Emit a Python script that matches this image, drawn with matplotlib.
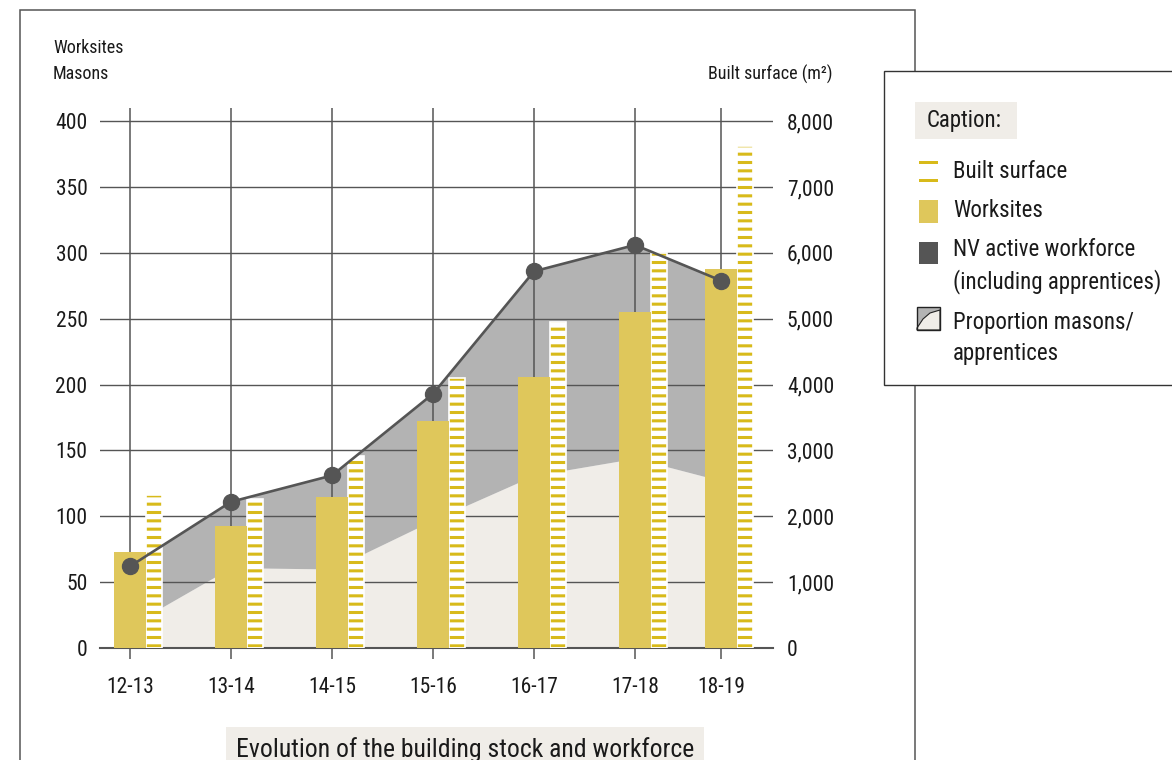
import matplotlib
matplotlib.use("Agg")
import matplotlib.pyplot as plt
from matplotlib import font_manager
from matplotlib.patches import Rectangle, Polygon

# schmale Schrift suchen, sonst Roboto
installed = {f.name for f in font_manager.fontManager.ttflist}
wanted = ["Roboto Condensed", "Barlow Semi Condensed", "Archivo Narrow", "PT Sans Narrow",
          "Liberation Sans Narrow", "Roboto"]
font = next((n for n in wanted if n in installed), "DejaVu Sans")
plt.rcParams['font.family'] = [font, 'DejaVu Sans']
plt.rcParams['hatch.linewidth'] = 2.2

# Daten
seasons = ["12-13", "13-14", "14-15", "15-16", "16-17", "17-18", "18-19"]
xpos = [0, 1, 2, 3, 4, 5, 5.85]
worksites = [73, 93, 115, 172, 206, 255, 288]
workforce = [62, 111, 131, 193, 286, 306, 279]
masons = [17, 61, 60, 97, 131, 144, 127]
built_surface = [2330, 2260, 2920, 4100, 4950, 6000, 7620]

GOLD = "#dfc75b"
STRIPE = "#d8ba1a"
DARK = "#555555"
GREY = "#b3b3b3"
LIGHT = "#f0ede8"
TXT = "#1a1a1a"

W, H = 1172, 760


def fx(px):
    return px / W


def fy(py):
    return 1 - py / H


fig = plt.figure(figsize=(W / 100, H / 100), dpi=100)

# Rahmen
fig.add_artist(Rectangle((fx(20), fy(800)), fx(915) - fx(20), fy(10) - fy(800),
                         transform=fig.transFigure, fill=False, edgecolor="#555555", lw=1.1))

rect = [fx(100), fy(648), fx(773) - fx(100), fy(108) - fy(648)]
ax = fig.add_axes(rect)
ax.set_xlim(-0.297, 6.366)
ax.set_ylim(0, 410)

# Flächen
ax.fill_between(xpos, 0, masons, color=LIGHT, lw=0, zorder=1)
ax.fill_between(xpos, masons, workforce, color=GREY, lw=0, zorder=1)

# Gitter
for y in range(0, 401, 50):
    ax.axhline(y, color=DARK, lw=1.0, zorder=1.5)
for x in xpos:
    ax.axvline(x, color=DARK, lw=1.1, zorder=1.5)

ax.set_yticks(range(0, 401, 50))
ax.tick_params(axis='y', length=0, pad=9, labelsize=15.5, labelcolor=TXT)
ax.set_xticks(xpos)
ax.set_xticklabels(seasons)
ax.tick_params(axis='x', length=8, width=1.1, color=DARK, pad=13, labelsize=15.5, labelcolor=TXT)
for s in ["top", "left", "right"]:
    ax.spines[s].set_visible(False)
ax.spines["bottom"].set_color(DARK)
ax.spines["bottom"].set_linewidth(1.5)

# Bebaute Fläche (rechte Achse)
ax2 = ax.twinx()
ax2.set_ylim(0, 8200)
ax2.set_xlim(ax.get_xlim())
bx = [x + 0.238 for x in xpos]
ax2.bar(bx, built_surface, width=0.158, color="white", edgecolor=STRIPE, lw=0, hatch="--", zorder=2)
ax2.bar(bx, built_surface, width=0.158, fill=False, edgecolor="white", lw=1.2, zorder=2.1)
ax2.set_yticks(range(0, 8001, 1000))
ax2.set_yticklabels([f"{v:,}" for v in range(0, 8001, 1000)])
ax2.tick_params(axis='y', length=0, pad=10, labelsize=15.5, labelcolor=TXT)
for s in ax2.spines.values():
    s.set_visible(False)

# Baustellen + Arbeitskräfte
ax3 = ax.twinx()
ax3.set_ylim(ax.get_ylim())
ax3.set_xlim(ax.get_xlim())
ax3.bar(xpos, worksites, width=0.317, color=GOLD, lw=0, zorder=2)
ax3.plot(xpos, workforce, color=DARK, lw=1.9, marker="o", markersize=11.5, zorder=3)
ax3.set_yticks([])
for s in ax3.spines.values():
    s.set_visible(False)

# Achsentitel
fig.text(fx(53), fy(48), "Worksites", fontsize=13, color=TXT, va="center")
fig.text(fx(53), fy(74), "Masons", fontsize=13, color=TXT, va="center")
fig.text(fx(832), fy(74), "Built surface (m²)", fontsize=13, color=TXT, va="center", ha="right")

# Titel
fig.text(fx(465), fy(750), "Evolution of the building stock and workforce", fontsize=18.5,
         color=TXT, ha="center", va="center",
         bbox=dict(boxstyle="square,pad=0.4", facecolor=LIGHT, edgecolor="none"))

# Legende
fig.add_artist(Rectangle((fx(884), fy(385)), fx(1200) - fx(884), fy(71) - fy(385),
                         transform=fig.transFigure, facecolor="white", edgecolor="#333333", lw=1.0))
fig.add_artist(Rectangle((fx(915), fy(139)), fx(1017) - fx(915), fy(102) - fy(139),
                         transform=fig.transFigure, facecolor=LIGHT, edgecolor="none"))
fig.text(fx(927), fy(121), "Caption:", fontsize=16.5, color=TXT, va="center")

for yy in (162, 180):
    fig.add_artist(Rectangle((fx(919), fy(yy + 1.5)), fx(938) - fx(919), 3 / H,
                             transform=fig.transFigure, facecolor=STRIPE, edgecolor="none"))
fig.add_artist(Rectangle((fx(919), fy(223)), fx(938) - fx(919), 23 / H,
                         transform=fig.transFigure, facecolor=GOLD, edgecolor="none"))
fig.add_artist(Rectangle((fx(919), fy(264)), fx(938) - fx(919), 22 / H,
                         transform=fig.transFigure, facecolor=DARK, edgecolor="none"))
fig.add_artist(Rectangle((fx(917), fy(330)), fx(940) - fx(917), 23 / H,
                         transform=fig.transFigure, facecolor=GREY, edgecolor="none"))
fig.add_artist(Polygon([(fx(917), fy(330)), (fx(940), fy(330)), (fx(940), fy(310)),
                        (fx(930), fy(313)), (fx(923), fy(319)), (fx(917), fy(328))],
                       closed=True, transform=fig.transFigure, facecolor=LIGHT, edgecolor="#222222", lw=0.8))
fig.add_artist(Rectangle((fx(917), fy(330)), fx(940) - fx(917), 23 / H,
                         transform=fig.transFigure, fill=False, edgecolor="#222222", lw=1.0))

items = [(171, "Built surface"), (210, "Worksites"), (250, "NV active workforce"),
         (282, "(including apprentices)"), (322, "Proportion masons/"), (353, "apprentices")]
for yy, t in items:
    fig.text(fx(953), fy(yy), t, fontsize=16.5, color=TXT, va="center")

plt.savefig("out.png", dpi=100)
plt.close()
